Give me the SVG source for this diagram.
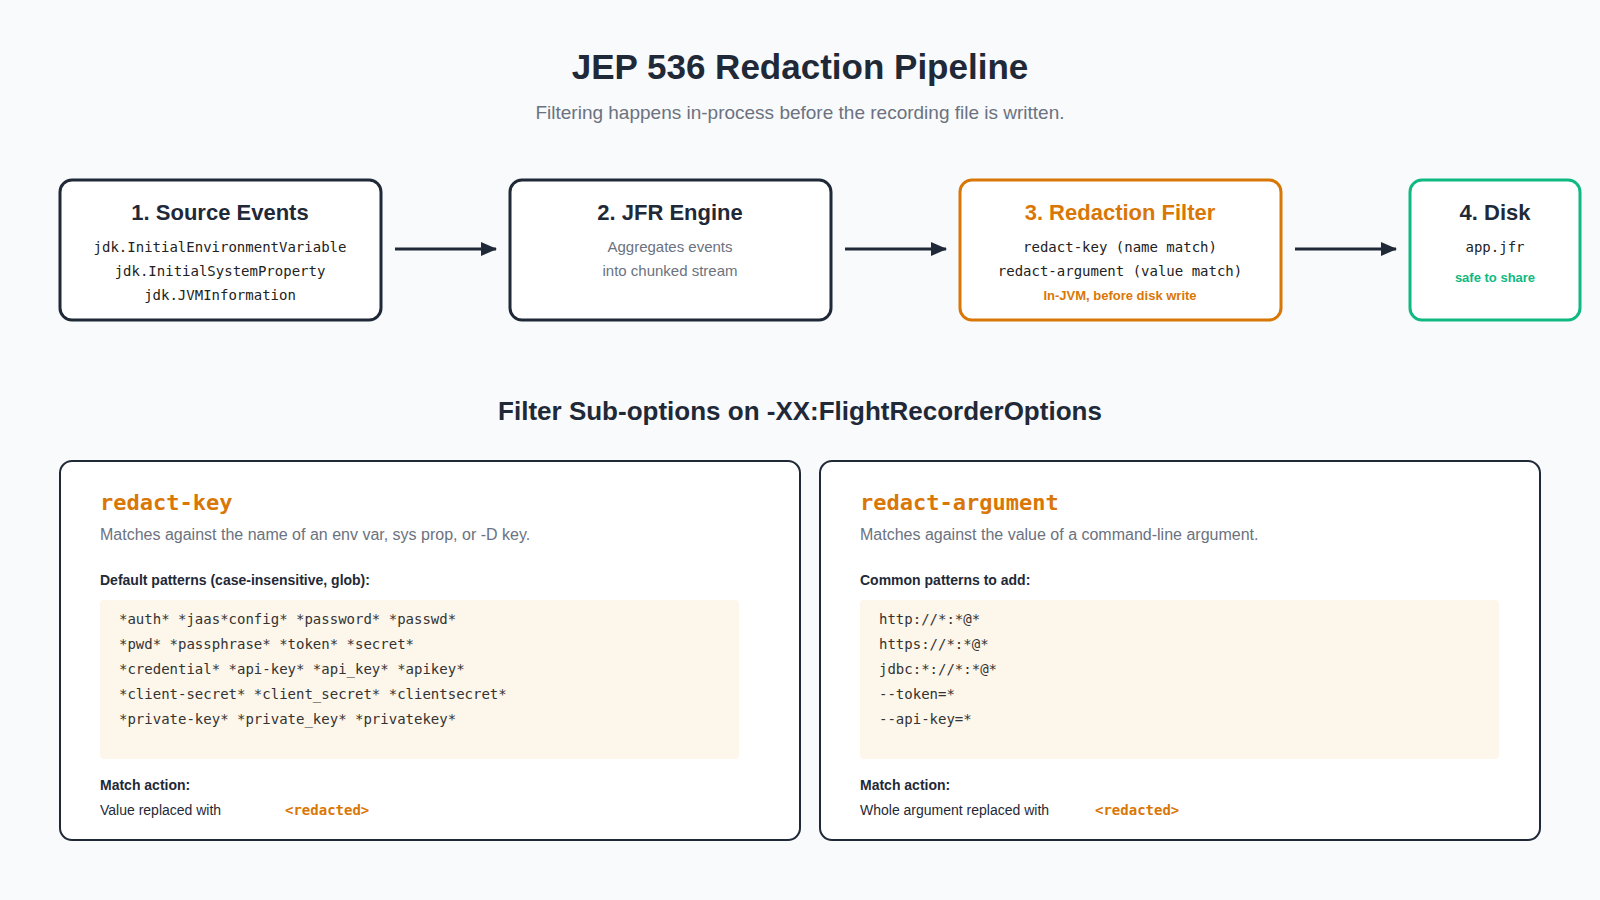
<svg xmlns="http://www.w3.org/2000/svg" width="1600" height="900" viewBox="0 0 1600 900">
<style>
.s{font-family:"Liberation Sans",Arial,sans-serif}
.m{font-family:"DejaVu Sans Mono","Liberation Mono",monospace}
.box{fill:#fff;stroke:#1f2937;stroke-width:3}
.nt{font-size:22px;font-weight:bold;fill:#1f2937;text-anchor:middle}
.nl{font-size:14px;fill:#222;text-anchor:middle}
.ng{font-size:15px;fill:#6b7280;text-anchor:middle}
.code{font-size:14px;fill:#333}
.ph{font-size:22px;font-weight:bold;fill:#d97706}
.pd{font-size:16px;fill:#6b7280}
.pb{font-size:14px;font-weight:bold;fill:#1f2937}
.pt{font-size:14px;fill:#1f2937}
.red{font-size:14px;font-weight:bold;fill:#d97706}
</style>
<defs><marker id="ah" markerWidth="10" markerHeight="10" refX="9" refY="5" orient="auto" markerUnits="userSpaceOnUse"><path d="M0,0 L16,5 L0,10 z" transform="scale(0.6,1)" fill="#1f2937"/></marker>
<marker id="a2" markerWidth="16" markerHeight="14" refX="15" refY="7" orient="auto" markerUnits="userSpaceOnUse"><path d="M0,0 L16,7 L0,14 z" fill="#1f2937"/></marker></defs>
<rect width="1600" height="900" fill="#f9fafb"/>
<text class="s" x="800" y="79" font-size="35" font-weight="bold" fill="#1f2937" text-anchor="middle">JEP 536 Redaction Pipeline</text>
<text class="s" x="800" y="119" font-size="19" fill="#6b7280" text-anchor="middle">Filtering happens in-process before the recording file is written.</text>
<g id="node1"><rect class="box" x="60" y="180" width="321" height="140" rx="12"/>
<text class="s nt" x="220" y="220">1. Source Events</text>
<text class="m nl" x="220" y="252">jdk.InitialEnvironmentVariable</text>
<text class="m nl" x="220" y="276">jdk.InitialSystemProperty</text>
<text class="m nl" x="220" y="300">jdk.JVMInformation</text></g>
<g id="node2"><rect class="box" x="510" y="180" width="321" height="140" rx="12"/>
<text class="s nt" x="670" y="220">2. JFR Engine</text>
<text class="s ng" x="670" y="252">Aggregates events</text>
<text class="s ng" x="670" y="276">into chunked stream</text></g>
<g id="node3"><rect class="box" x="960" y="180" width="321" height="140" rx="12" style="stroke:#d97706"/>
<text class="s nt" x="1120" y="220" style="fill:#d97706">3. Redaction Filter</text>
<text class="m nl" x="1120" y="252">redact-key (name match)</text>
<text class="m nl" x="1120" y="276">redact-argument (value match)</text>
<text class="s" x="1120" y="300" font-size="13" font-weight="bold" fill="#d97706" text-anchor="middle">In-JVM, before disk write</text></g>
<g id="node4"><rect class="box" x="1410" y="180" width="170" height="140" rx="12" style="stroke:#10b981"/>
<text class="s nt" x="1495" y="220">4. Disk</text>
<text class="m nl" x="1495" y="252">app.jfr</text>
<text class="s" x="1495" y="282" font-size="13" font-weight="bold" fill="#10b981" text-anchor="middle">safe to share</text></g>
<g id="connectors" stroke="#1f2937" stroke-width="3" fill="none">
<line x1="395" y1="249" x2="496" y2="249" marker-end="url(#a2)"/>
<line x1="845" y1="249" x2="946" y2="249" marker-end="url(#a2)"/>
<line x1="1295" y1="249" x2="1396" y2="249" marker-end="url(#a2)"/>
</g>
<text class="s" x="800" y="420" font-size="26" font-weight="bold" fill="#1f2937" text-anchor="middle">Filter Sub-options on -XX:FlightRecorderOptions</text>
<g id="panel-key"><rect class="box" x="60" y="461" width="740" height="379" rx="12" style="stroke-width:2"/>
<text class="m ph" x="100" y="510">redact-key</text>
<text class="s pd" x="100" y="540">Matches against the name of an env var, sys prop, or -D key.</text>
<text class="s pb" x="100" y="585">Default patterns (case-insensitive, glob):</text>
<rect x="100" y="600" width="639" height="159" rx="4" fill="#fdf6ea"/>
<text class="m code" x="119" y="624">*auth* *jaas*config* *password* *passwd*</text>
<text class="m code" x="119" y="649">*pwd* *passphrase* *token* *secret*</text>
<text class="m code" x="119" y="674">*credential* *api-key* *api_key* *apikey*</text>
<text class="m code" x="119" y="699">*client-secret* *client_secret* *clientsecret*</text>
<text class="m code" x="119" y="724">*private-key* *private_key* *privatekey*</text>
<text class="s pb" x="100" y="790">Match action:</text>
<text class="s pt" x="100" y="815">Value replaced with</text>
<text class="m red" x="285" y="815">&lt;redacted&gt;</text></g>
<g id="panel-arg"><rect class="box" x="820" y="461" width="720" height="379" rx="12" style="stroke-width:2"/>
<text class="m ph" x="860" y="510">redact-argument</text>
<text class="s pd" x="860" y="540">Matches against the value of a command-line argument.</text>
<text class="s pb" x="860" y="585">Common patterns to add:</text>
<rect x="860" y="600" width="639" height="159" rx="4" fill="#fdf6ea"/>
<text class="m code" x="879" y="624">http://*:*@*</text>
<text class="m code" x="879" y="649">https://*:*@*</text>
<text class="m code" x="879" y="674">jdbc:*://*:*@*</text>
<text class="m code" x="879" y="699">--token=*</text>
<text class="m code" x="879" y="724">--api-key=*</text>
<text class="s pb" x="860" y="790">Match action:</text>
<text class="s pt" x="860" y="815">Whole argument replaced with</text>
<text class="m red" x="1095" y="815">&lt;redacted&gt;</text></g>
</svg>
